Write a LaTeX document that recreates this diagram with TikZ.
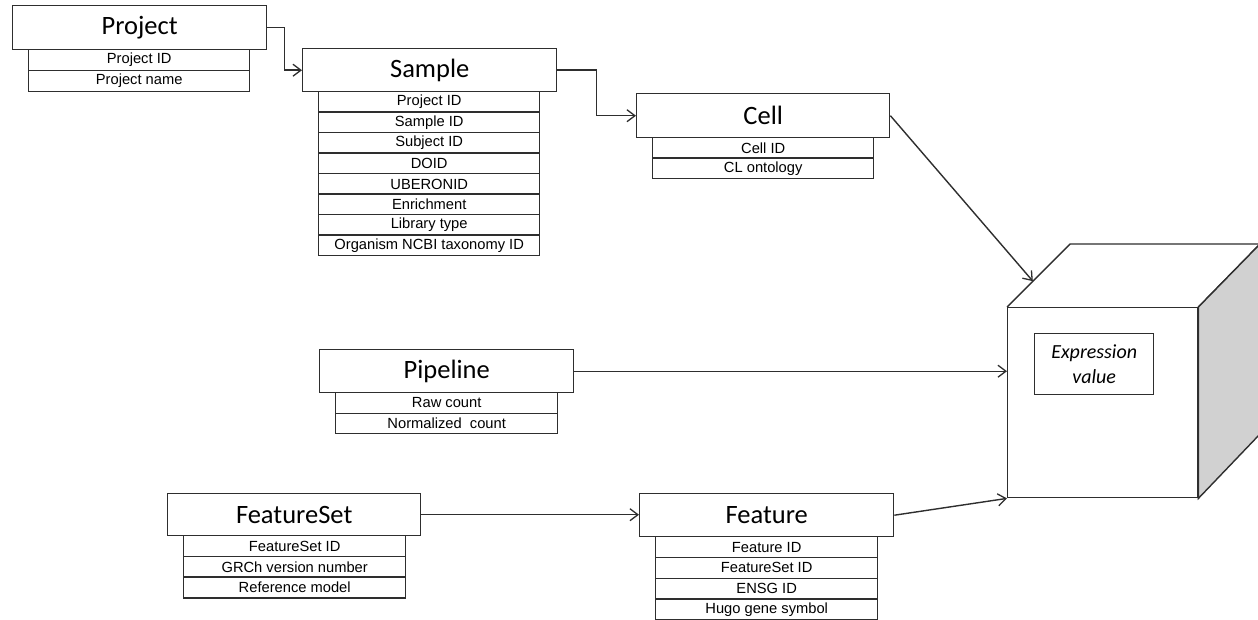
\documentclass[tikz,border=0pt]{standalone}
\usepackage{fontspec}
\setmainfont{Liberation Sans}
\newfontfamily\titlefont{Carlito}
\usetikzlibrary{arrows.meta,calc}
\tikzset{
  ink/.style={draw=black!82, line width=1.4pt},
  entity/.style={ink, fill=white, anchor=north west, inner sep=0pt,
    font=\titlefont\fontsize{26.5}{30}\selectfont},
  field/.style={ink, fill=white, anchor=north west, inner sep=0pt,
    font=\fontsize{14.7}{16}\selectfont},
  link/.style={ink, -{Straight Barb[length=8pt,width=12pt,line width=1.3pt]}},
  plain/.style={ink},
}
\begin{document}
\begin{tikzpicture}[x=1pt,y=-1pt]
\useasboundingbox (0,0) rectangle (1258,620);

% Project
\node[entity, minimum width=254pt, minimum height=44pt] (project) at (12,5) {Project};
\node[field, minimum width=221pt, minimum height=21pt] (p1) at (28,49) {Project ID};
\node[field, minimum width=221pt, minimum height=21pt] (p2) at (28,70) {Project name};

% Sample
\node[entity, minimum width=254pt, minimum height=43pt] (sample) at (302,48) {Sample};
\foreach \t [count=\i from 0] in {Project ID, Sample ID, Subject ID, DOID, UBERONID, Enrichment, Library type, Organism NCBI taxonomy ID}
  \node[field, minimum width=221pt, minimum height=20.5pt] (s\i) at (318,91+20.5*\i) {\t};

% Cell
\node[entity, minimum width=253pt, minimum height=44pt] (cell) at (636,93) {Cell};
\node[field, minimum width=221pt, minimum height=20.5pt] (c1) at (652,137) {Cell ID};
\node[field, minimum width=221pt, minimum height=20.5pt] (c2) at (652,157.5) {CL ontology};

% Pipeline
\node[entity, minimum width=254pt, minimum height=43pt] (pipeline) at (319,349) {Pipeline};
\node[field, minimum width=222pt, minimum height=20.5pt] (pl1) at (335,392) {Raw count};
\node[field, minimum width=222pt, minimum height=20.5pt] (pl2) at (335,412.5) {Normalized\ \ count};

% FeatureSet
\node[entity, minimum width=253pt, minimum height=42pt] (featureset) at (167,493) {FeatureSet};
\foreach \t [count=\i from 0] in {FeatureSet ID, GRCh version number, Reference model}
  \node[field, minimum width=222pt, minimum height=20.7pt] (fs\i) at (183,535+20.7*\i) {\t};

% Feature
\node[entity, minimum width=254pt, minimum height=43pt] (feature) at (639,493) {Feature};
\foreach \t [count=\i from 0] in {Feature ID, FeatureSet ID, ENSG ID, Hugo gene symbol}
  \node[field, minimum width=222pt, minimum height=20.75pt] (f\i) at (655,536+20.75*\i) {\t};

% Expression cube
\node[ink, fill=white, anchor=north west, inner sep=0pt,
      minimum width=190pt, minimum height=190pt] (cube) at (1007,307) {};
\coordinate (topback) at (1070,244);
\coordinate (rightback) at (1260,244);
\coordinate (rightbackbottom) at (1260,434);
\fill[white] (cube.north west) -- (topback) -- (rightback) -- (cube.north east) -- cycle;
\draw[plain] (cube.north west) -- (topback) -- (rightback) -- (cube.north east);
\filldraw[ink, fill=black!18] (cube.north east) -- (rightback) -- (rightbackbottom) -- (cube.south east) -- cycle;
\node[ink, anchor=north west, inner sep=0pt, minimum width=119pt, minimum height=61pt,
      align=center, font=\titlefont\itshape\fontsize{20}{25}\selectfont] (expr) at (1034,333) {Expression\\value};
\coordinate (topedge) at ($(cube.north west)!0.41!(topback)$);

% Connectors
\draw[link] (project.east) -- ++(17,0) |- (sample.west);
\draw[link] (sample.east) -- ++(39,0) |- (cell.west);
\draw[link] (featureset.east) -- (featureset.east -| feature.west);
\draw[link] (cell.east) -- (topedge);
\draw[link] (pipeline.east) -- (pipeline.east -| cube.west);
\draw[link] (feature.east) -- (cube.south west);
\end{tikzpicture}
\end{document}
